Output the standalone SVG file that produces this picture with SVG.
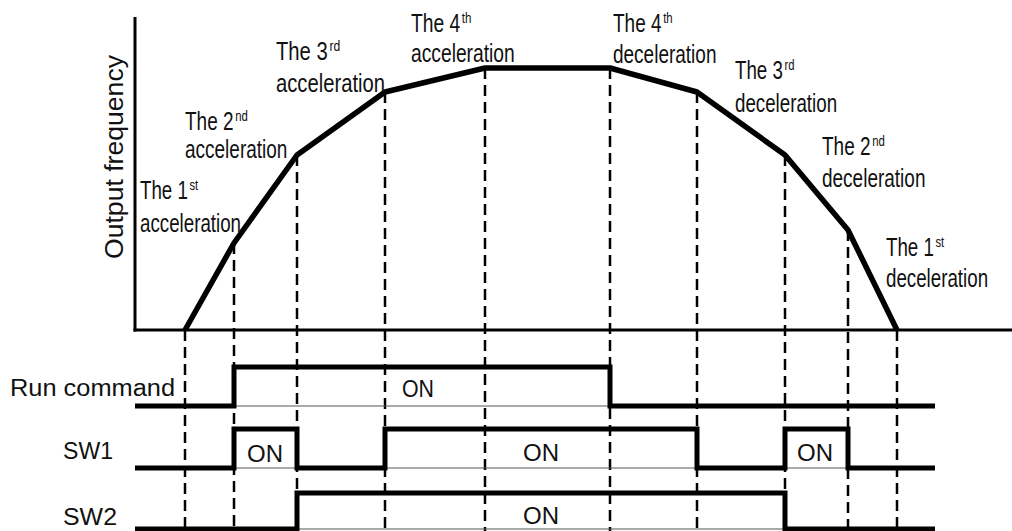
<svg xmlns="http://www.w3.org/2000/svg" width="1012" height="531" viewBox="0 0 1012 531">
  <style>
    text { font-family: "Liberation Sans", Arial, sans-serif; fill: #111; }
    .lbl { font-size: 25px; }
    .sup { font-size: 15px; }
    .sig { font-size: 23px; }
    .axis { stroke: #000; stroke-width: 3; fill: none; }
    .curve { stroke: #000; stroke-width: 5.5; fill: none; stroke-linejoin: round; }
    .dash { stroke: #000; stroke-width: 2.5; stroke-dasharray: 11 6; fill: none; }
    .wave { stroke: #000; stroke-width: 5; fill: none; stroke-linejoin: miter; }
    .base { stroke: #555; stroke-width: 1; fill: none; }
  </style>
  <rect width="1012" height="531" fill="#fff"/>

  <g id="axes">
    <line class="axis" x1="135" y1="17" x2="135" y2="331.5"/>
    <line class="axis" x1="133.5" y1="330" x2="1012" y2="330"/>
    <text transform="translate(123,157) rotate(-90)" text-anchor="middle" style="font-size:26px" textLength="204" lengthAdjust="spacingAndGlyphs">Output frequency</text>
  </g>

  <g id="connectors">
    <line class="dash" x1="185" y1="330" x2="185" y2="531"/>
    <line class="dash" x1="234" y1="243" x2="234" y2="531"/>
    <line class="dash" x1="297" y1="155" x2="297" y2="531"/>
    <line class="dash" x1="385" y1="92" x2="385" y2="531"/>
    <line class="dash" x1="485" y1="68" x2="485" y2="531"/>
    <line class="dash" x1="610" y1="68" x2="610" y2="531"/>
    <line class="dash" x1="697" y1="92" x2="697" y2="531"/>
    <line class="dash" x1="785" y1="155" x2="785" y2="531"/>
    <line class="dash" x1="848" y1="230" x2="848" y2="531"/>
    <line class="dash" x1="897" y1="330" x2="897" y2="531"/>
  </g>

  <g id="frequency-curve">
    <polyline class="curve" points="185,330 234,243 297,155 385,92 485,68 610,68 697,92 785,155 848,230 897,330"/>
  </g>

  <g id="acc1" transform="translate(140,0) scale(0.75,1)">
    <text class="lbl" x="0" y="199">The 1</text>
    <text class="sup" x="66" y="190">st</text>
    <text class="lbl" x="0" y="232">acceleration</text>
  </g>
  <g id="acc2" transform="translate(185,0) scale(0.76,1)">
    <text class="lbl" x="0" y="130">The 2</text>
    <text class="sup" x="66" y="121">nd</text>
    <text class="lbl" x="0" y="158">acceleration</text>
  </g>
  <g id="acc3" transform="translate(276,0) scale(0.81,1)">
    <text class="lbl" x="0" y="60">The 3</text>
    <text class="sup" x="66" y="51">rd</text>
    <text class="lbl" x="0" y="92">acceleration</text>
  </g>
  <g id="acc4" transform="translate(411,0) scale(0.77,1)">
    <text class="lbl" x="0" y="32">The 4</text>
    <text class="sup" x="66" y="23">th</text>
    <text class="lbl" x="0" y="62">acceleration</text>
  </g>
  <g id="dec4" transform="translate(613,0) scale(0.76,1)">
    <text class="lbl" x="0" y="32">The 4</text>
    <text class="sup" x="66" y="23">th</text>
    <text class="lbl" x="0" y="63">deceleration</text>
  </g>
  <g id="dec3" transform="translate(735,0) scale(0.75,1)">
    <text class="lbl" x="0" y="79">The 3</text>
    <text class="sup" x="66" y="70">rd</text>
    <text class="lbl" x="0" y="112">deceleration</text>
  </g>
  <g id="dec2" transform="translate(822,0) scale(0.76,1)">
    <text class="lbl" x="0" y="155">The 2</text>
    <text class="sup" x="66" y="146">nd</text>
    <text class="lbl" x="0" y="187">deceleration</text>
  </g>
  <g id="dec1" transform="translate(886,0) scale(0.75,1)">
    <text class="lbl" x="0" y="256">The 1</text>
    <text class="sup" x="66" y="247">st</text>
    <text class="lbl" x="0" y="287">deceleration</text>
  </g>

  <g id="run-command">
    <text class="sig" x="10" y="396" textLength="165" lengthAdjust="spacingAndGlyphs">Run command</text>
    <line class="base" x1="234" y1="406" x2="610" y2="406"/>
    <polyline class="wave" points="135,406 234,406 234,367 610,367 610,406 935,406"/>
    <text class="sig" x="402" y="397" textLength="32" lengthAdjust="spacingAndGlyphs">ON</text>
  </g>

  <g id="sw1">
    <text class="sig" x="63" y="459" textLength="50" lengthAdjust="spacingAndGlyphs">SW1</text>
    <line class="base" x1="234" y1="468" x2="297" y2="468"/>
    <line class="base" x1="385" y1="468" x2="697" y2="468"/>
    <line class="base" x1="785" y1="468" x2="848" y2="468"/>
    <polyline class="wave" points="135,468 234,468 234,429 297,429 297,468 385,468 385,429 697,429 697,468 785,468 785,429 848,429 848,468 935,468"/>
    <text class="sig" x="247" y="462" textLength="36" lengthAdjust="spacingAndGlyphs">ON</text>
    <text class="sig" x="523" y="461" textLength="36" lengthAdjust="spacingAndGlyphs">ON</text>
    <text class="sig" x="797" y="461" textLength="36" lengthAdjust="spacingAndGlyphs">ON</text>
  </g>

  <g id="sw2">
    <text class="sig" x="63" y="525" textLength="54" lengthAdjust="spacingAndGlyphs">SW2</text>
    <line class="base" x1="297" y1="529" x2="785" y2="529"/>
    <polyline class="wave" points="135,529 297,529 297,493 785,493 785,529 935,529"/>
    <text class="sig" x="523" y="524" textLength="36" lengthAdjust="spacingAndGlyphs">ON</text>
  </g>
</svg>
